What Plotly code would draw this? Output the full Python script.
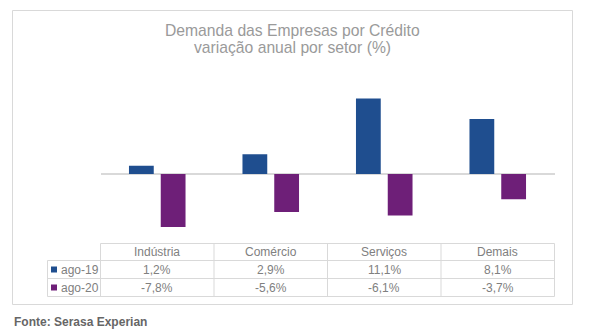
import plotly.graph_objects as go

W, H = 589, 334

categories = ["Indústria", "Comércio", "Serviços", "Demais"]
series_names = ["ago-19", "ago-20"]
ago19 = [1.2, 2.9, 11.1, 8.1]
ago20 = [-7.8, -5.6, -6.1, -3.7]
series_colors = ["#1F4E8F", "#6E1F78"]

title_line1 = "Demanda das Empresas por Crédito"
title_line2 = "variação anual por setor (%)"
source_text = "Fonte: Serasa Experian"

FONT = "Liberation Sans, Arial, sans-serif"
GRID = "#d9d9d9"
TXT = "#808080"


def px(x):
    return x / W


def py(y):
    return 1 - y / H


def fmt(v):
    return f"{v:.1f}".replace(".", ",") + "%"


# plot area (pixels)
PL, PR = 100.5, 554.5
PT, PB = 92.4, 242.0

fig = go.Figure()
for name, vals, col in zip(series_names, [ago19, ago20], series_colors):
    fig.add_trace(go.Bar(x=categories, y=vals, name=name,
                         marker=dict(color=col, line=dict(width=0))))

shapes = []
annotations = []

# outer chart border
shapes.append(dict(type="rect", xref="paper", yref="paper",
                   x0=px(12.5), x1=px(572.5), y0=py(304.5), y1=py(10.5),
                   line=dict(color=GRID, width=1), fillcolor="rgba(0,0,0,0)",
                   layer="below"))

# data table below the plot
n = len(categories)
edges = [PL + i * (PR - PL) / n for i in range(n + 1)]
rows = [243.5, 260.5, 278.5, 296.5]
legend_left = 47.5

def hline(x0, x1, y):
    shapes.append(dict(type="line", xref="paper", yref="paper",
                       x0=px(x0), x1=px(x1), y0=py(y), y1=py(y),
                       line=dict(color=GRID, width=1)))

def vline(x, y0, y1):
    shapes.append(dict(type="line", xref="paper", yref="paper",
                       x0=px(x), x1=px(x), y0=py(y0), y1=py(y1),
                       line=dict(color=GRID, width=1)))

hline(edges[0], edges[-1], rows[0])
for y in rows[1:]:
    hline(legend_left, edges[-1], y)
for x in edges:
    vline(x, rows[0], rows[-1])
vline(legend_left, rows[1], rows[-1])

def text(x, y, s, size=12, color=TXT, anchor="center", bold=False):
    annotations.append(dict(xref="paper", yref="paper", x=px(x), y=py(y),
                            text=f"<b>{s}</b>" if bold else s,
                            showarrow=False, xanchor=anchor, yanchor="middle",
                            font=dict(family=FONT, size=size, color=color)))

centers = [(edges[i] + edges[i + 1]) / 2 for i in range(n)]
row_mid = [(rows[i] + rows[i + 1]) / 2 for i in range(len(rows) - 1)]

for c, cat in zip(centers, categories):
    text(c, row_mid[0], cat)

for r, (name, vals, col) in enumerate(zip(series_names, [ago19, ago20], series_colors)):
    ym = row_mid[r + 1]
    for c, v in zip(centers, vals):
        text(c, ym, fmt(v))
    shapes.append(dict(type="rect", xref="paper", yref="paper",
                       x0=px(51), x1=px(57), y0=py(ym + 3), y1=py(ym - 3),
                       line=dict(width=0), fillcolor=col))
    text(58.5, ym, name, anchor="left")

# title
text(292.5, 30, title_line1, size=15.7, color="#9a9a9a")
text(292.5, 47.5, title_line2, size=15.7, color="#9a9a9a")

# source
text(12, 322, source_text, size=12, color="#666666", anchor="left", bold=True)

fig.update_layout(
    width=W, height=H,
    margin=dict(l=0, r=0, t=0, b=0),
    paper_bgcolor="white", plot_bgcolor="rgba(0,0,0,0)",
    showlegend=False,
    barmode="group", bargap=0.44, bargroupgap=0.22,
    font=dict(family=FONT),
    xaxis=dict(domain=[px(PL), px(PR)], showticklabels=False, showgrid=False,
               zeroline=False, showline=False, ticks=""),
    yaxis=dict(domain=[py(PB), py(PT)], range=[-10, 12], showticklabels=False,
               showgrid=False, zeroline=True, zerolinecolor=GRID,
               zerolinewidth=1.5, showline=False, ticks=""),
    shapes=shapes, annotations=annotations,
)

fig.write_html("out.html")
